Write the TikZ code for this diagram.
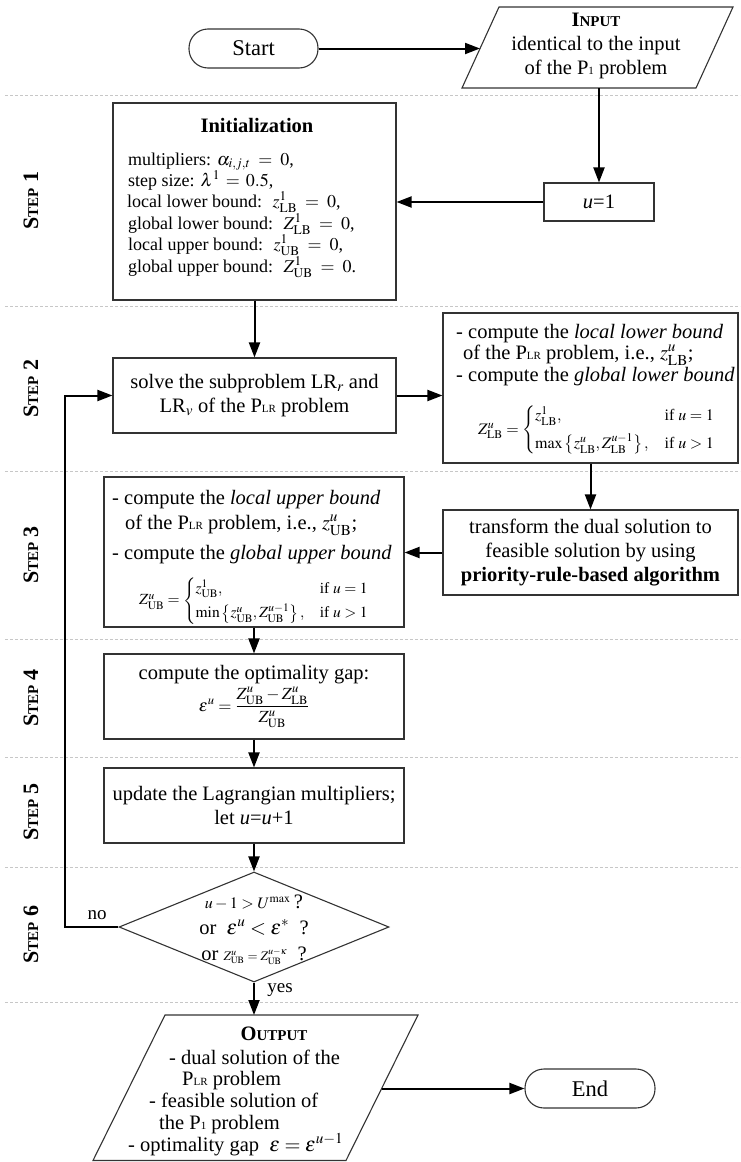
\RequirePackage{fix-cm}
\documentclass[tikz,border=0pt]{standalone}
\usepackage{amsmath}
\usepackage{mathptmx}
\usepackage{fontspec}
\setmainfont{Liberation Serif}
\usetikzlibrary{arrows.meta,shapes.geometric}
\newcommand{\fb}{\fontsize{20.5}{24}\selectfont}
\newcommand{\smallsub}[1]{{\fontsize{11}{11}\selectfont #1}}
\newcommand{\fakesc}[2]{#1{\fontsize{15}{15}\selectfont #2}}
\tikzset{
  boxline/.style={draw=black!80, line width=1.1pt},
  box/.style={rectangle, boxline, inner sep=0pt},
  term/.style={rectangle, boxline, rounded corners=19pt, inner sep=0pt, font=\fontsize{22.5}{22.5}\selectfont},
  arr/.style={-{Triangle[length=15pt,width=11pt]}, line width=2pt, black},
  sepline/.style={draw=black!22, dash pattern=on 3pt off 2pt, line width=0.8pt},
  steplab/.style={rotate=90, font=\bfseries\fontsize{22}{22}\selectfont},
  itxt/.style={anchor=base west, inner sep=0pt, font=\fontsize{18}{21}\selectfont},
  btxt/.style={anchor=base west, inner sep=0pt, font=\fb},
  ftxt/.style={anchor=west, inner sep=0pt, font=\fontsize{16}{19}\selectfont},
  lab/.style={inner sep=0pt, font=\fontsize{19}{19}\selectfont}
}
\begin{document}
\begin{tikzpicture}[x=1pt,y=-1pt]
\fill[white] (0,0) rectangle (740,1162);
\useasboundingbox (0,0) rectangle (740,1162);
% separators
\foreach \yy in {95,306,471,639,757,867,1002}
  \draw[sepline] (5,\yy) -- (740,\yy);
% step labels
\node[steplab] (s1) at (31,200.5) {\fakesc{S}{TEP} 1};
\node[steplab] (s2) at (31,388.5) {\fakesc{S}{TEP} 2};
\node[steplab] (s3) at (31,555) {\fakesc{S}{TEP} 3};
\node[steplab] (s4) at (31,698) {\fakesc{S}{TEP} 4};
\node[steplab] (s5) at (31,812) {\fakesc{S}{TEP} 5};
\node[steplab] (s6) at (31,934.5) {\fakesc{S}{TEP} 6};
% start
\node[term, minimum width=129, minimum height=39] (start) at (253.5,48.5) {Start};
% input
\coordinate (iBL) at (462,88);
\coordinate (iTL) at (499,7);
\coordinate (iTR) at (733,7);
\coordinate (iBR) at (696,88);
\draw[boxline] (iBL) -- (iTL) -- (iTR) -- (iBR) -- cycle;
\node[font=\fb, align=center, inner sep=0pt] (input) at (596,46)
  {\textbf{\fakesc{I}{NPUT}}\\identical to the input\\of the P\smallsub{1} problem};
\coordinate (iL) at (480,48.5);
\coordinate (iB) at (599,88);
\draw[arr] (start) -- (iL);
% u=1
\node[box, minimum width=110, minimum height=38, font=\fb] (u1) at (599,202) {\textit{u}=1};
\draw[arr] (iB) -- (u1);
% init
\node[box, minimum width=283, minimum height=197] (init) at (254.5,201.5) {};
\draw[arr] (u1.west) -- (u1.west -| init.east);
\node[anchor=base, inner sep=0pt, font=\bfseries\fontsize{20.5}{24}\selectfont] (ititle) at (257,132) {Initialization};
\node[itxt] (i1) at (128,165) {multipliers: $\alpha_{i,j,t}\;=\;0$,};
\node[itxt] (i2) at (128,186) {step size: $\lambda^1\,=\,0.5$,};
\node[itxt] (i3) at (127,207.5) {local lower bound: \ $z^1_{\mathrm{LB}}\;=\;0$,};
\node[itxt] (i4) at (128,229) {global lower bound: \ $Z^1_{\mathrm{LB}}\;=\;0$,};
\node[itxt] (i5) at (128,250.5) {local upper bound: \ $z^1_{\mathrm{UB}}\;=\;0$,};
\node[itxt] (i6) at (128,272) {global upper bound: \ $Z^1_{\mathrm{UB}}\;=\;0$.};
% solve
\node[box, minimum width=283, minimum height=75, font=\fb, align=center] (solve) at (254.5,395.5)
  {solve the subproblem LR$_r$ and\\LR$_v$ of the P\smallsub{LR} problem};
\draw[arr] (init) -- (solve);
% LB box
\node[box, minimum width=295, minimum height=150] (lb) at (590.5,388) {};
\draw[arr] (solve.east) -- (solve.east -| lb.west);
\node[btxt] (l1) at (456,338) {- compute the \textit{local lower bound}};
\node[btxt] (l2) at (463,359) {of the P\smallsub{LR} problem, i.e., $z^u_{\mathrm{LB}}$;};
\node[btxt] (l3) at (456,381) {- compute the \textit{global lower bound}};
\node[ftxt] (l4) at (478,430) {$Z^u_{\mathrm{LB}}=\begin{cases} z^1_{\mathrm{LB}}, & \text{if } u=1\\[5pt] \max\left\{z^u_{\mathrm{LB}},Z^{u-1}_{\mathrm{LB}}\right\}, & \text{if } u>1\end{cases}$};
% transform
\node[box, minimum width=295, minimum height=85, font=\fb, align=center] (tr) at (590.5,552.5)
  {transform the dual solution to\\feasible solution by using\\\textbf{priority-rule-based algorithm}};
\draw[arr] (lb) -- (tr);
% UB box
\node[box, minimum width=300, minimum height=150] (ub) at (254,552) {};
\draw[arr] (tr.west) -- (tr.west -| ub.east);
\node[btxt] (b1) at (112,504) {- compute the \textit{local upper bound}};
\node[btxt] (b2) at (125,529) {of the P\smallsub{LR} problem, i.e., $z^u_{\mathrm{UB}}$;};
\node[btxt] (b3) at (112,559) {- compute the \textit{global upper bound}};
\node[ftxt, font=\fontsize{15.5}{18}\selectfont] (b4) at (139,601) {$Z^u_{\mathrm{UB}}=\begin{cases} z^1_{\mathrm{UB}}, & \text{if } u=1\\[3pt] \min\left\{z^u_{\mathrm{UB}},Z^{u-1}_{\mathrm{UB}}\right\}, & \text{if } u>1\end{cases}$};
% gap
\node[box, minimum width=300, minimum height=85, font=\fb, align=center] (gap) at (254,696.5)
  {compute the optimality gap:\\[3pt]{\fontsize{17}{20}\selectfont$\varepsilon^u=\dfrac{Z^u_{\mathrm{UB}}-Z^u_{\mathrm{LB}}}{Z^u_{\mathrm{UB}}}$}};
\draw[arr] (ub) -- (gap);
% update
\node[box, minimum width=300, minimum height=75, font=\fb, align=center] (upd) at (254,805.5)
  {update the Lagrangian multipliers;\\let \textit{u}=\textit{u}+1};
\draw[arr] (gap) -- (upd);
% decision
\node[diamond, boxline, minimum width=270, minimum height=110, inner sep=0pt] (dia) at (254,927) {};
\draw[arr] (upd) -- (dia);
\node[anchor=base, inner sep=0pt, font=\fb] (d1) at (254,908) {{\fontsize{16}{16}\selectfont$u-1>U^{\max}$}\,?};
\node[anchor=base, inner sep=0pt, font=\fb] (d2) at (254,934) {or\ \ $\varepsilon^u<\varepsilon^*$\ \ ?};
\node[anchor=base, inner sep=0pt, font=\fb] (d3) at (254,960) {or\ {\fontsize{13}{13}\selectfont$Z^u_{\mathrm{UB}}=Z^{u-\kappa}_{\mathrm{UB}}$}\ \ ?};
\coordinate (lx) at (65,927);
\draw[arr] (dia.west) -- (lx) |- (solve.west);
\node[lab] (no) at (97,915) {no};
\node[lab] (yes) at (280,990) {yes};
% output
\coordinate (oBL) at (93,1160.5);
\coordinate (oTL) at (165,1015);
\coordinate (oTR) at (418,1015);
\coordinate (oBR) at (346,1160.5);
\draw[boxline] (oBL) -- (oTL) -- (oTR) -- (oBR) -- cycle;
\coordinate (oTop) at (254,1015);
\coordinate (oR) at (381.8,1088.5);
\draw[arr] (dia.south) -- (oTop);
\node[anchor=base, inner sep=0pt, font=\fb] (o0) at (274,1040) {\textbf{\fakesc{O}{UTPUT}}};
\node[btxt] (o1) at (169,1064) {- dual solution of the};
\node[btxt] (o2) at (182,1085) {P\smallsub{LR} problem};
\node[btxt] (o3) at (149,1107) {- feasible solution of};
\node[btxt] (o4) at (159,1129) {the P\smallsub{1} problem};
\node[btxt] (o5) at (128,1151) {- optimality gap\ \ $\varepsilon=\varepsilon^{u-1}$};
% end
\node[term, minimum width=130, minimum height=39] (end) at (590,1088.5) {End};
\draw[arr] (oR) -- (end.west);
\end{tikzpicture}
\end{document}
